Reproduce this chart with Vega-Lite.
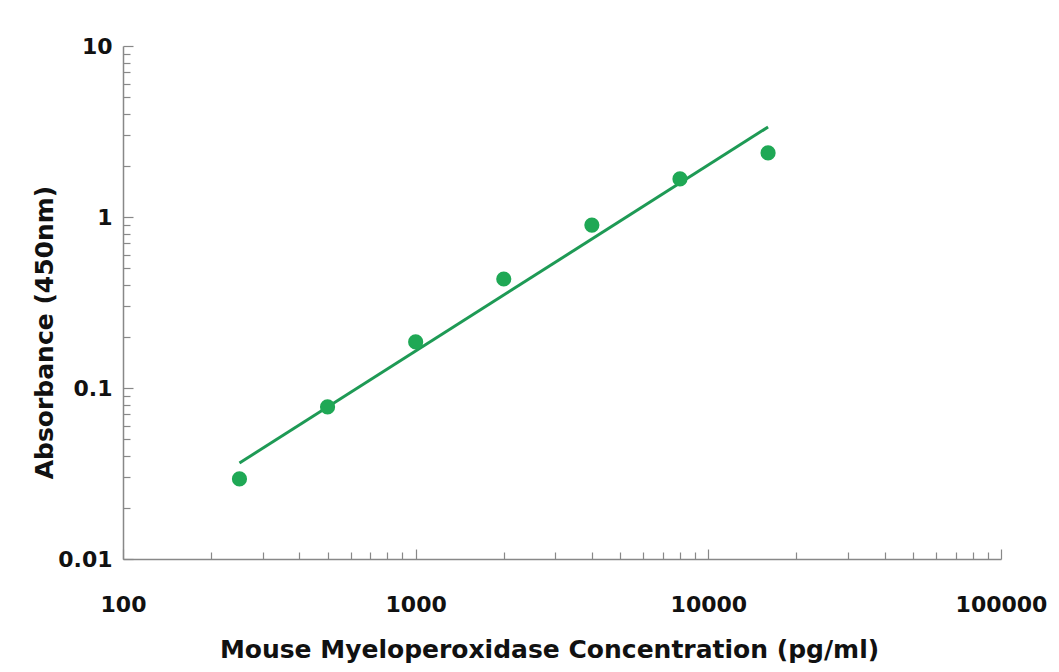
{
  "$schema": "https://vega.github.io/schema/vega-lite/v6.json",
  "width": 878,
  "height": 513,
  "autosize": {"type": "none"},
  "padding": {"left": 123, "top": 46, "right": 58, "bottom": 113},
  "background": "white",
  "config": {
    "view": {"stroke": null},
    "font": "DejaVu Sans",
    "axis": {
      "domainColor": "#888888",
      "domainWidth": 1.5,
      "tickColor": "#888888",
      "tickWidth": 1.2,
      "grid": false,
      "labelFont": "DejaVu Sans",
      "labelFontWeight": "bold",
      "labelFontSize": 22,
      "labelColor": "#111111",
      "titleFont": "DejaVu Sans",
      "titleFontWeight": "bold",
      "titleFontSize": 25,
      "titleColor": "#111111"
    }
  },
  "datasets": {
    "points": [
      {"conc": 250, "od": 0.0294},
      {"conc": 500, "od": 0.0775},
      {"conc": 1000, "od": 0.186},
      {"conc": 2000, "od": 0.434},
      {"conc": 4000, "od": 0.897},
      {"conc": 8000, "od": 1.67},
      {"conc": 16000, "od": 2.37}
    ],
    "fit": [
      {"conc": 250, "od": 0.0364},
      {"conc": 16000, "od": 3.36}
    ]
  },
  "layer": [
    {
      "data": {"name": "fit"},
      "mark": {"type": "line", "color": "#1e9a55", "strokeWidth": 3},
      "encoding": {
        "x": {"field": "conc", "type": "quantitative"},
        "y": {"field": "od", "type": "quantitative"}
      }
    },
    {
      "data": {"name": "points"},
      "mark": {"type": "point", "filled": true, "shape": "circle", "size": 230, "color": "#1fa855", "opacity": 1},
      "encoding": {
        "x": {
          "field": "conc",
          "type": "quantitative",
          "scale": {"type": "log", "domain": [100, 100000], "nice": false},
          "axis": {
            "title": "Mouse Myeloperoxidase Concentration (pg/ml)",
            "values": [100,200,300,400,500,600,700,800,900,1000,2000,3000,4000,5000,6000,7000,8000,9000,10000,20000,30000,40000,50000,60000,70000,80000,90000,100000],
            "format": ".2~f",
            "labelExpr": "abs(log(datum.value)/LN10 - round(log(datum.value)/LN10)) < 0.000001 ? datum.label : ''",
            "tickSize": {"condition": {"test": "abs(log(datum.value)/LN10 - round(log(datum.value)/LN10)) < 0.000001", "value": -10}, "value": -7},
            "labelPadding": 45,
            "labelFlush": false,
            "labelOverlap": false,
            "titlePadding": 19,
            "titleX": 426
          }
        },
        "y": {
          "field": "od",
          "type": "quantitative",
          "scale": {"type": "log", "domain": [0.01, 10], "nice": false},
          "axis": {
            "title": "Absorbance (450nm)",
            "values": [0.01,0.02,0.03,0.04,0.05,0.06,0.07,0.08,0.09,0.1,0.2,0.3,0.4,0.5,0.6,0.7,0.8,0.9,1,2,3,4,5,6,7,8,9,10],
            "format": ".2~f",
            "labelExpr": "abs(log(datum.value)/LN10 - round(log(datum.value)/LN10)) < 0.000001 ? datum.label : ''",
            "tickSize": {"condition": {"test": "abs(log(datum.value)/LN10 - round(log(datum.value)/LN10)) < 0.000001", "value": -10}, "value": -7},
            "labelPadding": 21,
            "labelFlush": false,
            "labelOverlap": false,
            "titlePadding": 0,
            "titleY": 286
          }
        }
      }
    }
  ]
}
